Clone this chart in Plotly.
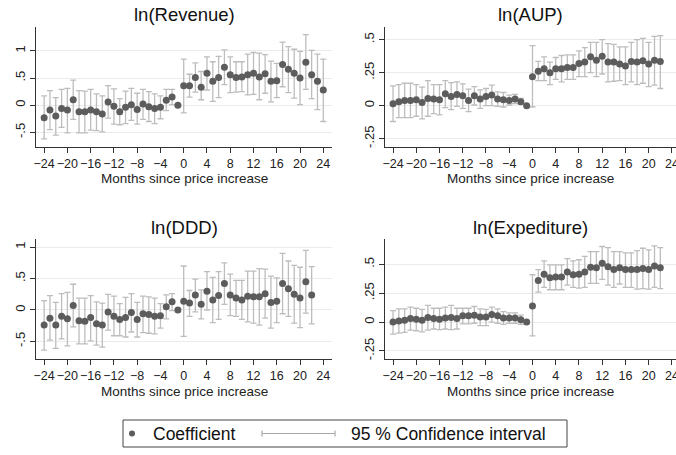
import plotly.graph_objects as go

W, H = 676, 455

months = list(range(-24, 25))

# ---- ln(Revenue): months -24..24
rev_coef = [-0.23, -0.09, -0.20, -0.06, -0.09, 0.10, -0.12, -0.12, -0.09, -0.12, -0.16, 0.06, -0.02, -0.12,
            -0.04, 0.01, -0.08, 0.02, -0.03, -0.06, -0.04, 0.09, 0.15, 0.0,
            0.36, 0.36, 0.51, 0.33, 0.59, 0.44, 0.51, 0.70, 0.56, 0.51, 0.52, 0.56, 0.59, 0.52, 0.58, 0.44,
            0.45, 0.75, 0.66, 0.59, 0.50, 0.79, 0.56, 0.44, 0.28]
rev_hi = [0.17, 0.27, 0.14, 0.29, 0.31, 0.46, 0.27, 0.26, 0.29, 0.21, 0.17, 0.36, 0.30, 0.12,
          0.26, 0.31, 0.22, 0.29, 0.25, 0.21, 0.17, 0.29, 0.29, 0.0,
          0.85, 0.57, 0.78, 0.62, 0.89, 0.80, 0.90, 1.02, 0.89, 0.80, 0.80, 0.94, 0.97, 0.96, 0.93, 0.81,
          0.77, 1.16, 1.08, 1.03, 0.99, 1.30, 1.01, 0.94, 0.85]
rev_lo = [-0.62, -0.45, -0.55, -0.41, -0.51, -0.26, -0.51, -0.51, -0.46, -0.47, -0.49, -0.24, -0.35, -0.36,
          -0.34, -0.28, -0.35, -0.26, -0.30, -0.34, -0.25, -0.10, 0.01, 0.0,
          -0.14, 0.15, 0.24, 0.10, 0.28, 0.07, 0.14, 0.38, 0.23, 0.24, 0.25, 0.19, 0.20, 0.10, 0.22, 0.06,
          0.14, 0.34, 0.23, 0.13, 0.01, 0.29, 0.12, -0.08, -0.30]

# ---- ln(AUP): months -24..22
aup_coef = [0.015, 0.03, 0.04, 0.04, 0.045, 0.025, 0.055, 0.05, 0.045, 0.09, 0.07, 0.085, 0.075, 0.04,
            0.075, 0.05, 0.07, 0.08, 0.05, 0.045, 0.04, 0.05, 0.03, 0.0,
            0.22, 0.26, 0.28, 0.25, 0.28, 0.28, 0.29, 0.29, 0.32, 0.33, 0.37, 0.345, 0.375, 0.33, 0.33,
            0.315, 0.30, 0.335, 0.33, 0.34, 0.315, 0.345, 0.335]
aup_hi = [0.15, 0.16, 0.17, 0.17, 0.16, 0.14, 0.19, 0.16, 0.16, 0.19, 0.175, 0.18, 0.165, 0.125,
          0.145, 0.12, 0.13, 0.155, 0.105, 0.10, 0.08, 0.085, 0.055, 0.0,
          0.455, 0.335, 0.37, 0.33, 0.365, 0.38, 0.385, 0.385, 0.415, 0.44, 0.48, 0.48, 0.50, 0.47, 0.465,
          0.445, 0.445, 0.48, 0.50, 0.51, 0.48, 0.525, 0.53]
aup_lo = [-0.12, -0.09, -0.09, -0.09, -0.08, -0.10, -0.08, -0.06, -0.07, -0.015, -0.03, -0.005, -0.02, -0.045,
          0.005, -0.02, 0.0, 0.0, -0.005, -0.01, 0.005, 0.015, 0.01, 0.0,
          -0.01, 0.19, 0.19, 0.16, 0.20, 0.18, 0.20, 0.20, 0.22, 0.22, 0.25, 0.22, 0.24, 0.18, 0.185,
          0.19, 0.16, 0.18, 0.16, 0.17, 0.145, 0.155, 0.13]

# ---- ln(DDD): months -24..22
ddd_coef = [-0.24, -0.13, -0.24, -0.10, -0.14, 0.07, -0.17, -0.18, -0.12, -0.22, -0.24, -0.03, -0.10, -0.15,
            -0.12, -0.04, -0.15, -0.06, -0.07, -0.10, -0.09, 0.05, 0.13, 0.0,
            0.14, 0.11, 0.24, 0.09, 0.30, 0.16, 0.23, 0.42, 0.24, 0.19, 0.16, 0.22, 0.21, 0.21, 0.26,
            0.12, 0.14, 0.42, 0.34, 0.25, 0.19, 0.45, 0.24]
ddd_hi = [0.15, 0.23, 0.12, 0.26, 0.28, 0.41, 0.19, 0.19, 0.23, 0.13, 0.11, 0.25, 0.22, 0.10,
          0.20, 0.26, 0.12, 0.22, 0.21, 0.19, 0.10, 0.24, 0.26, 0.0,
          0.70, 0.31, 0.49, 0.32, 0.61, 0.52, 0.61, 0.75, 0.57, 0.47, 0.47, 0.62, 0.62, 0.66, 0.65,
          0.54, 0.51, 0.90, 0.78, 0.71, 0.68, 0.95, 0.69]
ddd_lo = [-0.64, -0.48, -0.61, -0.46, -0.57, -0.27, -0.54, -0.54, -0.49, -0.56, -0.59, -0.32, -0.41, -0.41,
          -0.43, -0.35, -0.43, -0.36, -0.37, -0.38, -0.29, -0.14, -0.01, 0.0,
          -0.42, -0.10, -0.03, -0.14, 0.0, -0.20, -0.15, 0.09, -0.09, -0.10, -0.15, -0.19, -0.21, -0.24, -0.13,
          -0.29, -0.20, -0.06, -0.10, -0.21, -0.28, -0.05, -0.22]

# ---- ln(Expediture): months -24..22
exp_coef = [0.0, 0.01, 0.015, 0.03, 0.025, 0.015, 0.04, 0.03, 0.025, 0.035, 0.04, 0.03, 0.055, 0.055,
            0.06, 0.045, 0.045, 0.065, 0.055, 0.035, 0.035, 0.035, 0.02, 0.0,
            0.14, 0.36, 0.415, 0.385, 0.39, 0.39, 0.435, 0.41, 0.415, 0.435, 0.475, 0.47, 0.51, 0.48, 0.455,
            0.47, 0.455, 0.455, 0.455, 0.465, 0.455, 0.485, 0.47]
exp_hi = [0.10, 0.115, 0.115, 0.13, 0.12, 0.11, 0.145, 0.12, 0.12, 0.13, 0.145, 0.12, 0.12, 0.12,
          0.135, 0.115, 0.11, 0.13, 0.115, 0.09, 0.08, 0.08, 0.06, 0.0,
          0.41, 0.455, 0.53, 0.495, 0.495, 0.495, 0.55, 0.53, 0.54, 0.57, 0.61, 0.61, 0.655, 0.645, 0.61,
          0.61, 0.60, 0.60, 0.62, 0.64, 0.625, 0.66, 0.645]
exp_lo = [-0.105, -0.095, -0.09, -0.07, -0.075, -0.085, -0.07, -0.06, -0.065, -0.06, -0.065, -0.06, -0.015, -0.015,
          -0.01, -0.03, -0.03, 0.0, -0.01, -0.02, -0.01, -0.01, -0.02, 0.0,
          -0.12, 0.26, 0.30, 0.28, 0.28, 0.28, 0.32, 0.30, 0.295, 0.30, 0.335, 0.335, 0.37, 0.32, 0.30,
          0.33, 0.30, 0.30, 0.285, 0.29, 0.285, 0.30, 0.29]

titles = ["ln(Revenue)", "ln(AUP)", "ln(DDD)", "ln(Expediture)"]
x_ticks = list(range(-24, 25, 4))
y_ticks_big = [-0.5, 0, 0.5, 1]
y_tick_text_big = ["-.5", "0", ".5", "1"]
y_ticks_small = [-0.25, 0, 0.25, 0.5]
y_tick_text_small = ["-.25", "0", ".25", ".5"]
x_title = "Months since price increase"
legend_labels = ["Coefficient", "95 % Confidence interval"]

FONT = "Arial, Liberation Sans, sans-serif"
MARK = "#5c5c5c"
ERR = "#bdbdbd"
AX = "#333333"
GRID = "#ebebeb"

def px(x):
    return x / W

def py(y):
    return 1 - y / H

panels = [
    dict(coef=rev_coef, hi=rev_hi, lo=rev_lo, xd=[36, 332], yd=[27, 147], yr=[-0.77, 1.44],
         yt=y_ticks_big, ytt=y_tick_text_big, xr=[-25.4, 25.5], ty=15, xty=179),
    dict(coef=aup_coef, hi=aup_hi, lo=aup_lo, xd=[385, 676], yd=[27, 147], yr=[-0.313, 0.596],
         yt=y_ticks_small, ytt=y_tick_text_small, xr=[-25.38, 24.7], ty=15, xty=179),
    dict(coef=ddd_coef, hi=ddd_hi, lo=ddd_lo, xd=[36, 332], yd=[239, 359], yr=[-0.78, 1.13],
         yt=y_ticks_big, ytt=y_tick_text_big, xr=[-25.4, 25.5], ty=227, xty=391),
    dict(coef=exp_coef, hi=exp_hi, lo=exp_lo, xd=[385, 676], yd=[239, 359], yr=[-0.32, 0.72],
         yt=y_ticks_small, ytt=y_tick_text_small, xr=[-25.38, 24.7], ty=227, xty=391),
]

fig = go.Figure()
annotations = []
for i, p in enumerate(panels):
    n = len(p["coef"])
    xs = months[:n]
    up = [h - c for h, c in zip(p["hi"], p["coef"])]
    dn = [c - l for c, l in zip(p["coef"], p["lo"])]
    sfx = "" if i == 0 else str(i + 1)
    fig.add_trace(go.Scatter(
        x=xs, y=p["coef"], mode="markers", xaxis="x" + sfx, yaxis="y" + sfx,
        marker=dict(color=MARK, size=7),
        error_y=dict(type="data", symmetric=False, array=up, arrayminus=dn,
                     color=ERR, thickness=1.3, width=3),
        showlegend=False, hoverinfo="skip", cliponaxis=False))
    xa = dict(domain=[px(p["xd"][0]), px(p["xd"][1])], range=p["xr"], anchor="y" + sfx,
              tickvals=x_ticks, tickangle=0, ticks="outside", ticklen=5, tickcolor=AX, tickwidth=1,
              showline=True, linecolor=AX, linewidth=1, showgrid=False, zeroline=False,
              automargin=False, ticklabeloverflow="allow",
              tickfont=dict(family=FONT, size=12.5, color="#222"))
    ya = dict(domain=[py(p["yd"][1]), py(p["yd"][0])], range=p["yr"], anchor="x" + sfx,
              tickvals=p["yt"], ticktext=p["ytt"], tickangle=-90, ticks="outside", ticklen=5,
              tickcolor=AX, tickwidth=1, showline=True, linecolor=AX, linewidth=1,
              showgrid=True, gridcolor=GRID, gridwidth=1, zeroline=False, automargin=False,
              tickfont=dict(family=FONT, size=13, color="#222"))
    fig.layout["xaxis" + sfx] = xa
    fig.layout["yaxis" + sfx] = ya
    cx = px((p["xd"][0] + min(p["xd"][1], 681)) / 2)
    annotations.append(dict(text=titles[i], x=cx, y=py(p["ty"]),
                            xref="paper", yref="paper", xanchor="center", yanchor="middle",
                            showarrow=False, font=dict(family=FONT, size=18.5, color="#111")))
    annotations.append(dict(text=x_title, x=cx, y=py(p["xty"]),
                            xref="paper", yref="paper", xanchor="center", yanchor="middle",
                            showarrow=False, font=dict(family=FONT, size=13.5, color="#222")))

# legend (drawn manually to mimic Stata's legend box)
annotations.append(dict(text=legend_labels[0], x=px(151), y=py(434), xref="paper", yref="paper",
                        xanchor="left", yanchor="middle", showarrow=False,
                        font=dict(family=FONT, size=17.5, color="#111")))
annotations.append(dict(text=legend_labels[1], x=px(349), y=py(434), xref="paper", yref="paper",
                        xanchor="left", yanchor="middle", showarrow=False,
                        font=dict(family=FONT, size=17.5, color="#111")))
shapes = [
    dict(type="rect", xref="paper", yref="paper", x0=px(123), x1=px(567), y0=py(447), y1=py(420),
         line=dict(color="#444", width=1), fillcolor="rgba(0,0,0,0)"),
    dict(type="circle", xref="paper", yref="paper", x0=px(129), x1=px(135), y0=py(436.5), y1=py(430.5),
         line=dict(width=0), fillcolor=MARK),
    dict(type="line", xref="paper", yref="paper", x0=px(262), x1=px(335), y0=py(433.5), y1=py(433.5),
         line=dict(color="#a8a8a8", width=1.2)),
    dict(type="line", xref="paper", yref="paper", x0=px(262), x1=px(262), y0=py(430.5), y1=py(436.5),
         line=dict(color="#a8a8a8", width=1.2)),
    dict(type="line", xref="paper", yref="paper", x0=px(335), x1=px(335), y0=py(430.5), y1=py(436.5),
         line=dict(color="#a8a8a8", width=1.2)),
]

fig.update_layout(width=W, height=H, margin=dict(l=0, r=0, t=0, b=0),
                  paper_bgcolor="white", plot_bgcolor="white",
                  annotations=annotations, shapes=shapes, showlegend=False,
                  font=dict(family=FONT))

fig.write_html("out.html", config={"displayModeBar": False},
               post_script="document.body.style.margin='0';document.body.style.overflow='hidden';")
